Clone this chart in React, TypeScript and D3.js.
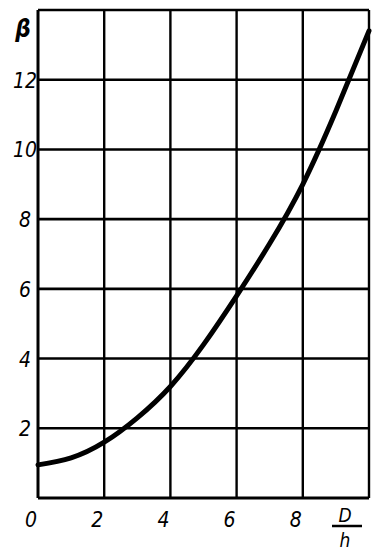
import * as d3 from 'd3'
import { useEffect, useRef } from 'react'

// values: D/h against beta
const ratioDh = [0, 1, 2, 3, 4, 5, 6, 7, 8, 9, 10]
const betaValues = [0.95, 1.15, 1.6, 2.3, 3.2, 4.4, 5.8, 7.3, 9.0, 11.1, 13.4]
const xTicks = [0, 2, 4, 6, 8]
const yTicks = [2, 4, 6, 8, 10, 12]

const W = 379
const H = 558
const FONT = '"Liberation Sans Narrow", "DejaVu Sans Condensed", "DejaVu Sans", sans-serif'

export default function App() {
  const ref = useRef<SVGSVGElement>(null)

  useEffect(() => {
    const svg = d3.select(ref.current)
    svg.selectAll('*').remove()

    const x = d3.scaleLinear().domain([0, 10]).range([38, 369])
    const y = d3.scaleLinear().domain([0, 14]).range([498, 10])

    svg.append('rect').attr('width', W).attr('height', H).attr('fill', '#fff')

    const g = svg.append('g')

    // grid
    g.selectAll('.vgrid')
      .data([...xTicks, 10])
      .enter().append('line')
      .attr('x1', d => x(d)).attr('x2', d => x(d))
      .attr('y1', y(0)).attr('y2', y(14))
      .attr('stroke', '#000').attr('stroke-width', d => (d === 0 ? 3 : 2.4))

    g.selectAll('.hgrid')
      .data([0, ...yTicks, 14])
      .enter().append('line')
      .attr('x1', x(0)).attr('x2', x(10))
      .attr('y1', d => y(d)).attr('y2', d => y(d))
      .attr('stroke', '#000').attr('stroke-width', d => (d === 0 ? 3 : 2.6))

    // curve
    const line = d3.line<number>()
      .x((_, i) => x(ratioDh[i]))
      .y(d => y(d))
      .curve(d3.curveNatural)

    g.append('path')
      .datum(betaValues)
      .attr('d', line)
      .attr('fill', 'none')
      .attr('stroke', '#000')
      .attr('stroke-width', 5)
      .attr('stroke-linecap', 'round')

    // y labels
    g.selectAll('.ylab')
      .data(yTicks)
      .enter().append('text')
      .attr('x', 25)
      .attr('y', d => y(d) + 8)
      .attr('text-anchor', 'middle')
      .attr('font-family', FONT)
      .attr('font-style', 'italic')
      .attr('font-size', 21)
      .text(d => d)

    // x labels
    g.selectAll('.xlab')
      .data(xTicks)
      .enter().append('text')
      .attr('x', d => x(d) - 7)
      .attr('y', 527)
      .attr('text-anchor', 'middle')
      .attr('font-family', FONT)
      .attr('font-style', 'italic')
      .attr('font-size', 21)
      .text(d => d)

    // axis titles
    g.append('text')
      .attr('x', 23).attr('y', 37)
      .attr('text-anchor', 'middle')
      .attr('font-family', FONT)
      .attr('font-style', 'italic')
      .attr('font-weight', 'bold')
      .attr('font-size', 24)
      .text('β')

    g.append('text')
      .attr('x', 345).attr('y', 522)
      .attr('text-anchor', 'middle')
      .attr('font-family', FONT)
      .attr('font-style', 'italic')
      .attr('font-size', 19)
      .text('D')
    g.append('line')
      .attr('x1', 332).attr('x2', 362)
      .attr('y1', 526).attr('y2', 526)
      .attr('stroke', '#000').attr('stroke-width', 2.5)
    g.append('text')
      .attr('x', 345).attr('y', 547)
      .attr('text-anchor', 'middle')
      .attr('font-family', FONT)
      .attr('font-style', 'italic')
      .attr('font-size', 19)
      .text('h')
  }, [])

  return (
    <svg
      ref={ref}
      width={W}
      height={H}
      style={{ position: 'absolute', left: 0, top: 0, display: 'block' }}
    />
  )
}
